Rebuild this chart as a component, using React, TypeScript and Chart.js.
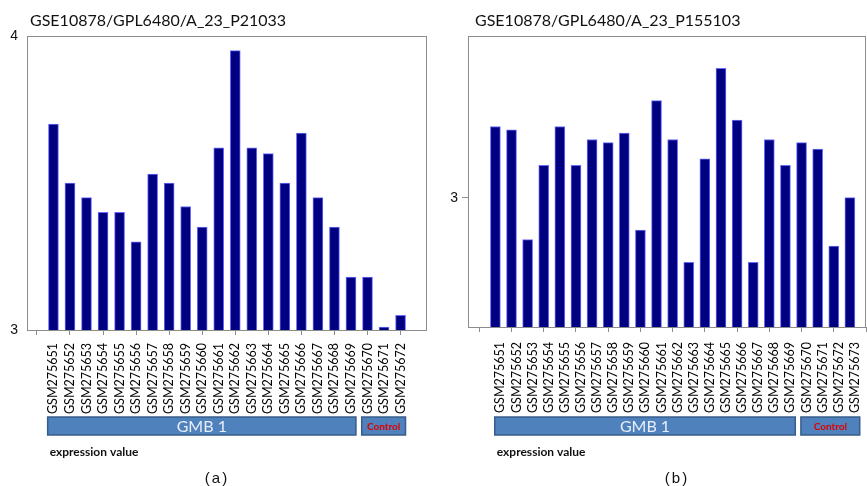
import React, { useEffect, useRef } from 'react';
import { Chart, registerables } from 'chart.js';

Chart.register(...registerables);

// ---------- data ----------
const leftTitle = 'GSE10878/GPL6480/A_23_P21033';
const leftSamples = [
  'GSM275651', 'GSM275652', 'GSM275653', 'GSM275654', 'GSM275655', 'GSM275656',
  'GSM275657', 'GSM275658', 'GSM275659', 'GSM275660', 'GSM275661', 'GSM275662',
  'GSM275663', 'GSM275664', 'GSM275665', 'GSM275666', 'GSM275667', 'GSM275668',
  'GSM275669', 'GSM275670', 'GSM275671', 'GSM275672',
];
const leftValues = [
  3.70, 3.50, 3.45, 3.40, 3.40, 3.30, 3.53, 3.50, 3.42, 3.35, 3.62,
  3.95, 3.62, 3.60, 3.50, 3.67, 3.45, 3.35, 3.18, 3.18, 3.01, 3.05,
];
const leftYTicks = [3, 4];
const leftGroupStarts = [1, 20];
const leftGroupEnds = [19, 22];

const rightTitle = 'GSE10878/GPL6480/A_23_P155103';
const rightSamples = [
  'GSM275651', 'GSM275652', 'GSM275653', 'GSM275654', 'GSM275655', 'GSM275656',
  'GSM275657', 'GSM275658', 'GSM275659', 'GSM275660', 'GSM275661', 'GSM275662',
  'GSM275663', 'GSM275664', 'GSM275665', 'GSM275666', 'GSM275667', 'GSM275668',
  'GSM275669', 'GSM275670', 'GSM275671', 'GSM275672', 'GSM275673',
];
const rightValues = [
  3.22, 3.21, 2.87, 3.10, 3.22, 3.10, 3.18, 3.17, 3.20, 2.90, 3.30, 3.18,
  2.80, 3.12, 3.40, 3.24, 2.80, 3.18, 3.10, 3.17, 3.15, 2.85, 3.00,
];
const rightYTicks = [3];
const rightGroupStarts = [1, 20];
const rightGroupEnds = [19, 23];

const groupNames = ['GMB 1', 'Control'];
const yAxisName = 'expression value';

// ---------- plugin ----------
const decorPlugin = {
  id: 'decor',
  afterDraw(chart: any, _args: any, opts: any) {
    const { ctx, chartArea: a, scales } = chart;
    const xs = scales.x;
    ctx.save();
    // plot frame
    ctx.strokeStyle = '#8c8c8c';
    ctx.lineWidth = 1;
    const l = Math.round(a.left) + 0.5;
    const t = Math.round(a.top) + 0.5;
    const r = Math.round(a.right) - 0.5;
    const b = Math.round(a.bottom) + 0.5;
    ctx.strokeRect(l, t, r - l, b - t);

    // title
    ctx.fillStyle = '#111';
    ctx.font = '16px Lato';
    ctx.textAlign = 'left';
    ctx.textBaseline = 'alphabetic';
    ctx.fillText(opts.title, opts.titleX, 26);

    // group boxes
    let firstBoxLeft = 0;
    opts.starts.forEach((s: number, i: number) => {
      const e = opts.ends[i];
      const x0 = xs.getPixelForValue(s - 0.35) + opts.labelOffset;
      const x1 = xs.getPixelForValue(e + 0.3) + opts.labelOffset;
      if (i === 0) firstBoxLeft = x0;
      const y0 = 417;
      const h = 18;
      ctx.fillStyle = '#4f81bd';
      ctx.fillRect(x0, y0, x1 - x0, h);
      ctx.strokeStyle = '#385d8a';
      ctx.lineWidth = 1.5;
      ctx.strokeRect(x0, y0, x1 - x0, h);
      ctx.textAlign = 'center';
      ctx.textBaseline = 'middle';
      if (i === 0) {
        ctx.fillStyle = '#e8eef7';
        ctx.font = '16px Lato';
      } else {
        ctx.fillStyle = '#e00000';
        ctx.font = 'bold 10px Lato';
      }
      ctx.fillText(opts.groupNames[i], (x0 + x1) / 2, y0 + h / 2 + 0.5);
    });

    // axis caption
    ctx.fillStyle = '#111';
    ctx.font = 'bold 12px Lato';
    ctx.textAlign = 'left';
    ctx.textBaseline = 'alphabetic';
    ctx.fillText(opts.caption, firstBoxLeft + 2, 456);

    // panel letter
    ctx.font = '15px "Liberation Sans"';
    ctx.textAlign = 'center';
    (ctx as any).letterSpacing = '2px';
    ctx.fillText(opts.panel, opts.panelX, 483);
    ctx.restore();
  },
};

// ---------- chart factory ----------
function makeConfig(p: any) {
  const n = p.samples.length;
  return {
    type: 'bar',
    data: {
      datasets: [
        {
          data: p.values.map((v: number, i: number) => ({ x: i + 1, y: v })),
          backgroundColor: '#000080',
          borderColor: '#6b6bff',
          borderWidth: 1,
          barThickness: 10,
        },
      ],
    },
    options: {
      animation: false,
      responsive: false,
      layout: { padding: { top: 36, right: p.rightPad, left: 0, bottom: 0 } },
      plugins: {
        legend: { display: false },
        tooltip: { enabled: false },
        decor: {
          title: p.title,
          titleX: p.titleX,
          starts: p.starts,
          ends: p.ends,
          groupNames,
          caption: yAxisName,
          panel: p.panel,
          panelX: p.panelX,
          labelOffset: p.labelOffset,
        },
      },
      scales: {
        x: {
          type: 'linear',
          offset: false,
          min: p.xMin,
          max: p.xMax,
          afterBuildTicks: (s: any) => {
            s.ticks = Array.from({ length: p.tickCount }, (_, i) => ({ value: i }));
          },
          afterFit: (s: any) => {
            s.height = p.xHeight;
            s.paddingLeft = 0;
            s.paddingRight = 0;
          },
          border: { display: false },
          grid: {
            offset: false,
            drawOnChartArea: false,
            drawTicks: true,
            tickLength: 5,
            tickWidth: 1,
            tickColor: (c: any) =>
              c.tick && c.tick.value % 2 === 0 ? '#8c8c8c' : 'rgba(0,0,0,0)',
          },
          ticks: {
            autoSkip: false,
            minRotation: 90,
            maxRotation: 90,
            padding: p.xPad,
            labelOffset: p.labelOffset,
            color: '#000',
            font: { family: 'Lato', size: 12.5 },
            callback: (v: any) => {
              const k = Number(v);
              return k >= 1 && k <= n ? p.samples[k - 1] : '';
            },
          },
        },
        y: {
          min: p.yMin,
          max: p.yMax,
          afterBuildTicks: (s: any) => {
            s.ticks = p.yTicks.map((v: number) => ({ value: v }));
          },
          afterFit: (s: any) => {
            s.width = p.yWidth;
            s.paddingTop = 0;
            s.paddingBottom = 0;
          },
          border: { display: false },
          grid: {
            drawOnChartArea: false,
            drawTicks: true,
            tickLength: p.yTickLen,
            tickColor: '#8c8c8c',
          },
          ticks: {
            padding: p.yPad,
            color: '#111',
            font: { family: 'Liberation Sans', size: 14 },
            callback: (v: any) => String(v),
          },
        },
      },
    },
    plugins: [decorPlugin],
  } as any;
}

function Panel({ params, left, width }: any) {
  const ref = useRef<HTMLCanvasElement | null>(null);
  useEffect(() => {
    if (!ref.current) return;
    const chart = new Chart(ref.current, makeConfig(params));
    return () => chart.destroy();
  }, [params]);
  return (
    <div style={{ position: 'absolute', left, top: 0, width, height: 486 }}>
      <canvas ref={ref} width={width} height={486} style={{ width, height: 486, display: 'block' }} />
    </div>
  );
}

const leftParams = {
  title: leftTitle,
  titleX: 30,
  samples: leftSamples,
  values: leftValues,
  yTicks: leftYTicks,
  yMin: 3,
  yMax: 4,
  starts: leftGroupStarts,
  ends: leftGroupEnds,
  panel: '(a)',
  panelX: 217,
  xMin: -0.6,
  xMax: 23.6,
  tickCount: 23,
  xHeight: 156,
  xPad: 8,
  yWidth: 27,
  yTickLen: 0,
  yPad: 9,
  rightPad: 13,
  labelOffset: 0,
};

const rightParams = {
  title: rightTitle,
  titleX: 35,
  samples: rightSamples,
  values: rightValues,
  yTicks: rightYTicks,
  yMin: 2.6,
  yMax: 3.5,
  starts: rightGroupStarts,
  ends: rightGroupEnds,
  panel: '(b)',
  panelX: 237,
  xMin: -0.7,
  xMax: 24.0,
  tickCount: 25,
  xHeight: 159,
  xPad: 10,
  yWidth: 28,
  yTickLen: 6,
  yPad: 4,
  rightPad: 1,
  labelOffset: 5,
};

export default function App() {
  return (
    <div style={{ position: 'fixed', left: 0, top: 0, width: 867, height: 486, background: '#fff' }}>
      <Panel params={leftParams} left={0} width={440} />
      <Panel params={rightParams} left={440} width={427} />
    </div>
  );
}
